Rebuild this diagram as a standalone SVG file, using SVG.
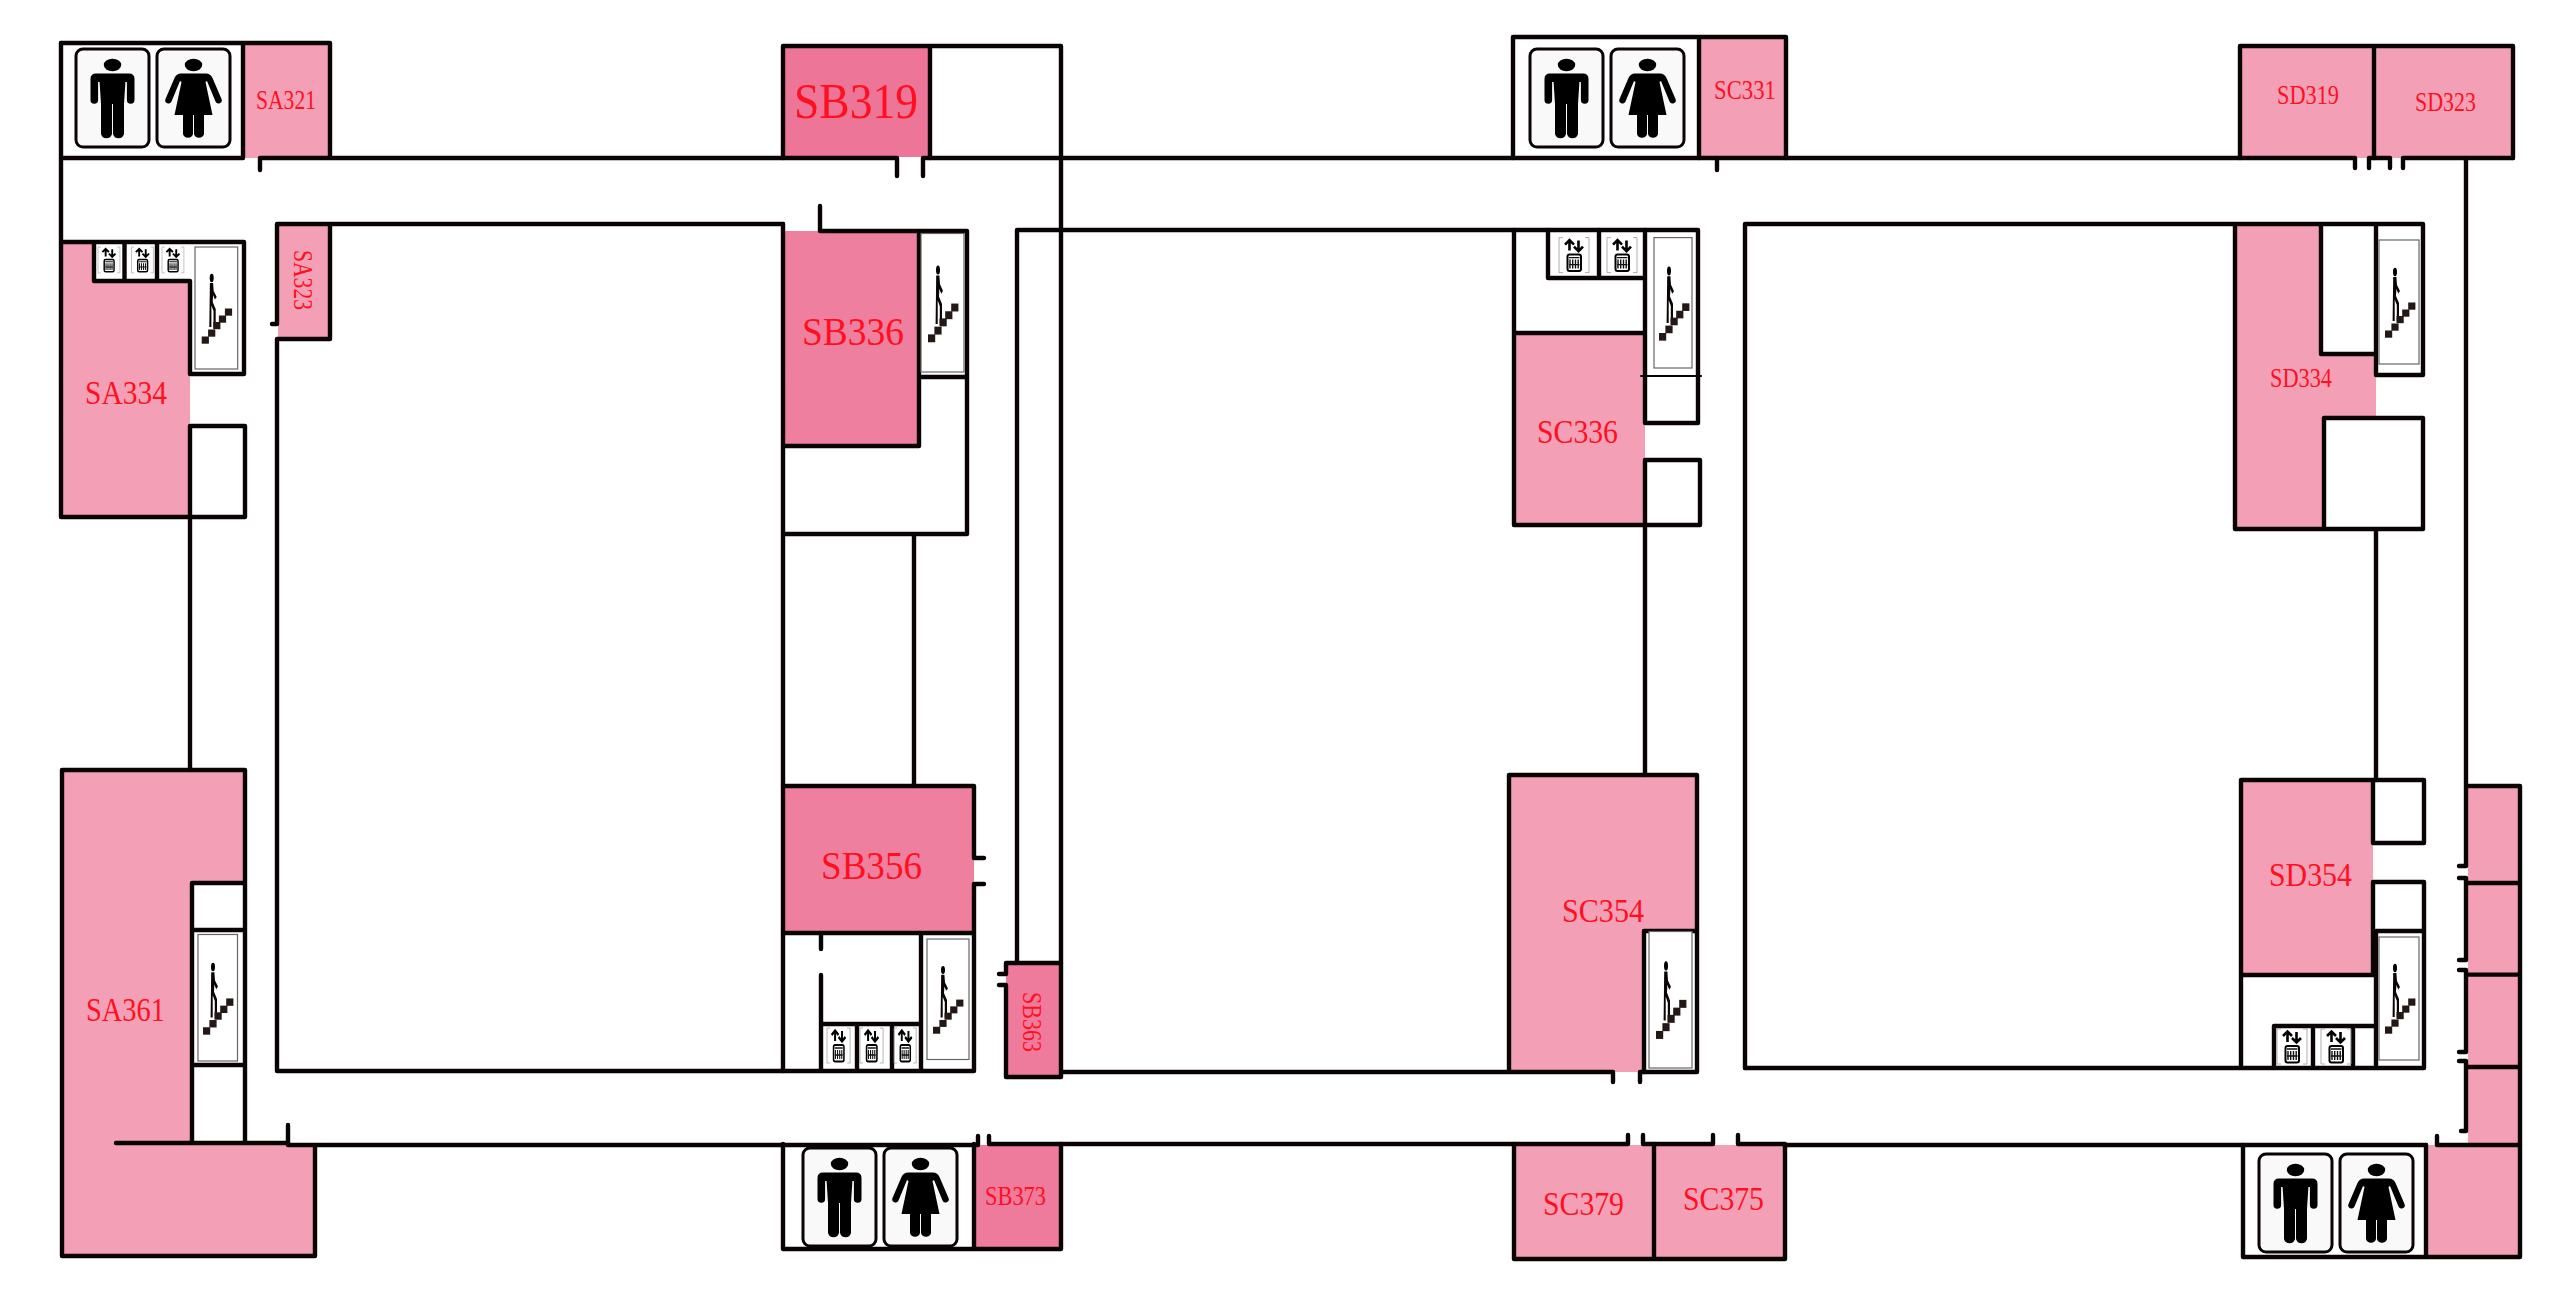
<svg xmlns="http://www.w3.org/2000/svg" xmlns:xlink="http://www.w3.org/1999/xlink" width="2550" height="1300" viewBox="0 0 2550 1300">
<style>
.a{fill:#f3a0b6}.b{fill:#ed7598}.c{fill:#ef7f9f}.d{fill:#ee7a9c}
.w{fill:none;stroke:#0a0304;stroke-width:4.4;stroke-linecap:round;stroke-linejoin:round}
.t{font-family:"Liberation Serif",serif;fill:#ff0f20}
.s{font-size:27px}.m{font-size:34px}.l{font-size:41px}.x{font-size:51px}
.f{fill:#fff;stroke:#666;stroke-width:1.2}
</style>
<defs>
<g id="sign"><rect x="0" y="0" width="73" height="98" rx="7" fill="#f9f9f9" stroke="#0a0304" stroke-width="3"/></g>
<g id="man"><use xlink:href="#sign" href="#sign"/><ellipse cx="36.5" cy="16" rx="8.7" ry="6.2"/><path d="M20,24.5H53Q58.5,24.5 58.5,30V51a3.8,3.8 0 0 1 -7.6,0V33H49.4L48,55V85a5.7,5.7 0 0 1 -11,0V55H36V85a5.7,5.7 0 0 1 -11,0V55L23.6,33H22.1V51a3.8,3.8 0 0 1 -7.6,0V30Q14.5,24.5 20,24.5Z"/></g>
<g id="woman"><use xlink:href="#sign" href="#sign"/><ellipse cx="36.5" cy="16" rx="8.7" ry="6.2"/><path d="M24,24.5H49Q53.5,24.5 55.5,29L64.5,50a3.2,3.2 0 0 1 -6,2.5L50,32L48.5,33L55.5,66H47V85a5.2,5.2 0 0 1 -10,0V66H36V85a5.2,5.2 0 0 1 -10,0V66H17.5L24.5,33L23,32L14.5,52.5a3.2,3.2 0 0 1 -6,-2.5L17.5,29Q19.5,24.5 24,24.5Z"/></g>
<g id="walk"><ellipse cx="0" cy="0" rx="2" ry="4.2"/><path d="M-1.8,5H1.4L2,13L5,19L3.2,21.5L1.4,17L1,24L4,31V49H1.8V33L-.3,27.5V49H-2.4Z" fill="#0a0304"/><g fill="#231815"><rect x="-10" y="58.5" width="7.2" height="7.2"/><rect x="-3.6" y="51.5" width="7.2" height="7.2"/><rect x="1.5" y="44" width="7.2" height="7.2"/><rect x="7.2" y="37.5" width="7.2" height="7.2"/><rect x="13.2" y="30.5" width="7.2" height="7.2"/></g></g>
<g id="lift"><path d="M4,0H0V35H4M26,0H30V35H26" fill="none" stroke="#999" stroke-width=".8"/><path d="M10.5,13V2.5M6,7L10.5,2.5L15,7M19.5,3V13.5M15,9L19.5,13.5L24,9" fill="none" stroke="#000" stroke-width="2.6"/><rect x="8.5" y="17" width="13.5" height="16.5" rx="2" fill="#fff" stroke="#000" stroke-width="2"/><path d="M10,20H20.5M11,22V31M13.7,22V31M16.5,22V31M19.2,22V31M10,27H20.5" fill="none" stroke="#111" stroke-width="1.4"/></g>
</defs>

<g id="SA321"><rect class="a" x="243" y="44" width="87" height="114"/><text class="t s" x="256" y="109" textLength="60" lengthAdjust="spacingAndGlyphs">SA321</text></g>
<g id="SA323"><rect class="a" x="278" y="224" width="52" height="115"/><text class="t s" transform="translate(303,280) rotate(90)" x="-30" y="9" textLength="60" lengthAdjust="spacingAndGlyphs">SA323</text></g>
<g id="SA334"><path class="a" d="M61,242H94V281H190V517H61Z"/><text class="t m" x="85" y="404" textLength="82" lengthAdjust="spacingAndGlyphs">SA334</text></g>
<g id="SA361"><path class="a" d="M62,770H245V883H192V1143H288V1146H315V1256H62Z"/><text class="t m" x="86" y="1021" textLength="79" lengthAdjust="spacingAndGlyphs">SA361</text></g>
<g id="SB319"><rect class="b" x="783" y="46" width="147" height="111"/><text class="t x" x="794" y="118" textLength="124" lengthAdjust="spacingAndGlyphs">SB319</text></g>
<g id="SB336"><rect class="c" x="783" y="231" width="136" height="215"/><text class="t l" x="802" y="345" textLength="102" lengthAdjust="spacingAndGlyphs">SB336</text></g>
<g id="SB356"><rect class="c" x="783" y="786" width="191" height="147"/><text class="t l" x="821" y="879" textLength="101" lengthAdjust="spacingAndGlyphs">SB356</text></g>
<g id="SB363"><rect class="d" x="1006" y="963" width="55" height="114"/><text class="t s" transform="translate(1032,1022) rotate(90)" x="-30" y="9" textLength="60" lengthAdjust="spacingAndGlyphs">SB363</text></g>
<g id="SB373"><rect class="d" x="974" y="1145" width="87" height="104"/><text class="t s" x="985" y="1205" textLength="61" lengthAdjust="spacingAndGlyphs">SB373</text></g>
<g id="SC331"><rect class="a" x="1699" y="37" width="87" height="121"/><text class="t s" x="1714" y="99" textLength="62" lengthAdjust="spacingAndGlyphs">SC331</text></g>
<g id="SC336"><rect class="a" x="1514" y="333" width="131" height="192"/><text class="t m" x="1537" y="442.5" textLength="81" lengthAdjust="spacingAndGlyphs">SC336</text></g>
<g id="SC354"><path class="a" d="M1509,775H1697V931H1644V1072H1509Z"/><text class="t m" x="1562" y="921.5" textLength="82" lengthAdjust="spacingAndGlyphs">SC354</text></g>
<g id="SC379"><rect class="a" x="1514" y="1145" width="140" height="114"/><text class="t m" x="1543" y="1215" textLength="81" lengthAdjust="spacingAndGlyphs">SC379</text></g>
<g id="SC375"><rect class="a" x="1654" y="1145" width="131" height="114"/><text class="t m" x="1683" y="1210" textLength="81" lengthAdjust="spacingAndGlyphs">SC375</text></g>
<g id="SD319"><rect class="a" x="2240" y="46" width="134" height="112"/><text class="t s" x="2277" y="104" textLength="62" lengthAdjust="spacingAndGlyphs">SD319</text></g>
<g id="SD323"><rect class="a" x="2374" y="46" width="139" height="112"/><text class="t s" x="2415" y="111" textLength="61" lengthAdjust="spacingAndGlyphs">SD323</text></g>
<g id="SD334"><path class="a" d="M2235,224H2321V354H2376V418H2324V529H2235Z"/><text class="t s" x="2270" y="387" textLength="62" lengthAdjust="spacingAndGlyphs">SD334</text></g>
<g id="SD354"><rect class="a" x="2241" y="780" width="132" height="195"/><text class="t m" x="2269" y="885.5" textLength="83" lengthAdjust="spacingAndGlyphs">SD354</text></g>
<g id="SE-stack"><rect class="a" x="2468" y="786" width="52" height="359"/><rect class="a" x="2426" y="1145" width="94" height="112"/></g>

<g id="walls" class="w">
<path d="M61,43H330V158M243,43V158M61,158H243M260,170V158H897V176M923,176V158H2355V168M2369,168V158H2390V168M2403,168V158H2513"/>
<path d="M61,43V517H245V426H190M61,242H244V374H190V281H94V242M124.5,242V281M157,242V281M190,426V770"/>
<path d="M272,324H277V224H783M330,224V339H277V1071H974"/>
<path d="M62,1256V770H245V1143M192,883H245M192,883V1143M192,930H245M192,1065H245M116,1143H288M315,1146V1256H62"/>
<path d="M288,1125V1145H978V1136M989,1136V1144H1628V1135M1643,1135V1144H1713V1135M1738,1135V1144H1785V1145H2426M2437,1136V1145H2520"/>
<path d="M783,224V1071M783,158V46H1061V963M930,46V158M820,206V231H967V534H783M919,231V446H783M919,377H967M914,534V786"/>
<path d="M783,786H974V858H984M984,884H974V1070M783,933H974M921,933V1070M821,933V949M821,975V1070M821,1024H921M857,1024V1070M892,1024V1070"/>
<path d="M1017,963V230H1698V376M999,974H1006V963H1061V1077H1006V985H999M1061,1072H1613V1082M1640,1082V1072H1697V775H1509V1072"/>
<path d="M783,1144V1249H1061V1144M974,1144V1249"/>
<path d="M1513,158V37H1786V158M1699,37V158M1717,170V158"/>
<path d="M1514,230V525H1700V460H1645M1514,333H1645M1548,230V278H1645M1599,230V278M1645,230V423H1698V376M1645,460V775M1644,1072V931H1697"/>
<path d="M1641,376H1701" stroke-width="2.2"/>
<path d="M1514,1144V1259H1785V1145M1654,1144V1259"/>
<path d="M2240,158V46H2513V158M2374,46V158"/>
<path d="M2466,158V866H2459M2459,878H2466V960H2459M2459,970H2466V1052H2459M2459,1061H2466V1131H2461M2466,786H2520V1257H2243V1145M2466,883H2520M2466,974.6H2520M2466,1067H2520M2426,1145V1257"/>
<path d="M1745,1068V224H2423V375H2376V224M2235,224V529H2423V418H2324V529M2321,224V354H2376M2376,529V780"/>
<path d="M2241,780H2424V843H2373V780M2373,882H2424V1068M2373,882V975M2241,780V1068M2241,975H2376M2376,931H2424M2376,931V1068M2274,1068V1026H2373M2313,1026V1068M2353,1026V1068M1745,1068H2424"/>
</g>

<g id="WC-A"><use href="#man" x="76" y="49"/><use href="#woman" x="157" y="49"/></g>
<g id="WC-B"><use href="#man" x="803" y="1148"/><use href="#woman" x="884" y="1148"/></g>
<g id="WC-C"><use href="#man" x="1530" y="49"/><use href="#woman" x="1611" y="49"/></g>
<g id="WC-D"><use href="#man" x="2259" y="1154"/><use href="#woman" x="2340" y="1154"/></g>

<g id="stair-A1"><rect class="f" x="195" y="247" width="42.7" height="122"/><use href="#walk" transform="translate(211.7,278)"/></g>
<g id="stair-A2"><rect class="f" x="198" y="934.5" width="39.5" height="126.5"/><use href="#walk" transform="translate(213,967) scale(1,1.03)"/></g>
<g id="stair-B1"><rect class="f" x="921" y="233.5" width="43" height="138.5"/><use href="#walk" transform="translate(938,270) scale(1,1.1)"/></g>
<g id="stair-B2"><rect class="f" x="927" y="939" width="42" height="120.5"/><use href="#walk" transform="translate(943,970) scale(1,.97)"/></g>
<g id="stair-C1"><rect class="f" x="1654" y="237.6" width="38" height="130.4"/><use href="#walk" transform="translate(1669,271) scale(1,1.06)"/></g>
<g id="stair-C2"><rect class="f" x="1649" y="931.5" width="43" height="136.5"/><use href="#walk" transform="translate(1666,966) scale(1,1.11)"/></g>
<g id="stair-D1"><rect class="f" x="2379" y="240" width="40" height="124"/><use href="#walk" transform="translate(2395,272)"/></g>
<g id="stair-D2"><rect class="f" x="2379" y="937" width="40" height="123"/><use href="#walk" transform="translate(2395,968)"/></g>

<g id="lifts-A"><use href="#lift" transform="translate(98,247) scale(.73,.74)"/><use href="#lift" transform="translate(131.5,247) scale(.73,.74)"/><use href="#lift" transform="translate(162,247) scale(.73,.74)"/></g>
<g id="lifts-B"><use href="#lift" transform="translate(827,1028) scale(.77,1)"/><use href="#lift" transform="translate(860,1028) scale(.77,1)"/><use href="#lift" transform="translate(894,1028) scale(.74,1)"/></g>
<g id="lifts-C"><use href="#lift" transform="translate(1559,237.6)"/><use href="#lift" transform="translate(1607,237.6)"/></g>
<g id="lifts-D"><use href="#lift" transform="translate(2277,1029)"/><use href="#lift" transform="translate(2321,1029)"/></g>
</svg>
